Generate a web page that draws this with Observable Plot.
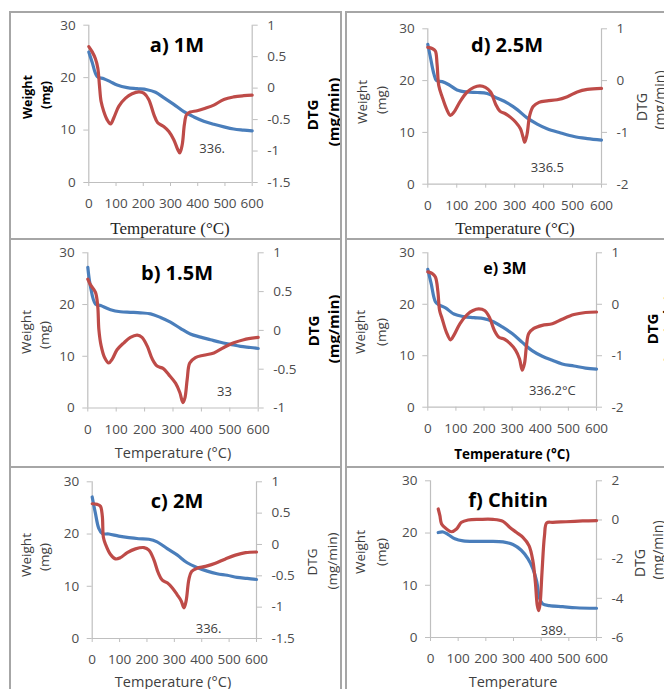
<!DOCTYPE html>
<html><head><meta charset="utf-8">
<script src="https://cdn.jsdelivr.net/npm/d3@7"></script>
<script src="https://cdn.jsdelivr.net/npm/@observablehq/plot@0.6"></script>
<style>
body{margin:0;background:#fff;}
#root{position:relative;width:664px;height:689px;overflow:hidden;background:#fff;font-family:"Open Sans",sans-serif;}
.cell{position:absolute;overflow:hidden;}
.lbl{position:absolute;white-space:nowrap;transform:translate(-50%,-50%);line-height:1;color:#333;}
.rot{transform:translate(-50%,-50%) rotate(-90deg);}
.bline{position:absolute;background:#a6a6a6;}
</style></head><body><div id="root"></div><script>
// ---------- data ----------
const xTicks = [0,100,200,300,400,500,600];
const weightTicks = [0,10,20,30];

// a) 1M
const aWeightT = [0,12,31,55,80,104,141,177,214,245,275,312,349,386,422,459,496,532,569,600];
const aWeight  = [24.9,23.0,20.2,19.8,19.2,18.6,18.1,17.9,17.7,17.2,16.2,14.9,13.5,12.5,11.7,11.1,10.6,10.2,10.0,9.85];
const aDtgT = [0,12,24,33,39,45,55,67,80,92,110,135,159,184,202,220,239,253,275,294,312,327,334,343,351,359,373,398,428,459,496,532,569,600];
const aDtg  = [0.66,0.58,0.47,0.32,0.05,-0.21,-0.37,-0.50,-0.57,-0.47,-0.29,-0.16,-0.09,-0.06,-0.08,-0.18,-0.42,-0.55,-0.61,-0.69,-0.82,-0.98,-1.03,-0.90,-0.58,-0.42,-0.38,-0.36,-0.32,-0.27,-0.18,-0.14,-0.12,-0.11];
const aDtgTicks = [-1.5,-1,-0.5,0,0.5,1];

// b) 1.5M
const bWeightT = [0,9,27,45,80,115,150,185,221,256,291,326,361,397,432,467,502,538,573,600];
const bWeight  = [27.2,23.6,20.1,19.8,19.0,18.6,18.5,18.4,18.2,17.5,16.6,15.4,14.3,13.7,13.2,12.7,12.3,11.9,11.7,11.5];
const bDtgT = [0,9,27,35,39,47,59,74,86,103,127,150,174,191,209,227,244,265,285,309,324,335,342,350,359,379,408,444,479,514,549,600];
const bDtg  = [0.66,0.59,0.49,0.31,0.01,-0.20,-0.35,-0.42,-0.37,-0.25,-0.16,-0.09,-0.06,-0.09,-0.20,-0.37,-0.46,-0.49,-0.57,-0.68,-0.80,-0.93,-0.87,-0.63,-0.42,-0.35,-0.32,-0.29,-0.22,-0.16,-0.12,-0.09];
const bDtgTicks = [-1,-0.5,0,0.5,1];

// c) 2M
const cWeightT = [0,12,24,37,61,97,134,170,207,237,274,310,347,383,420,456,493,529,566,600];
const cWeight  = [27.1,23.9,21.1,20.1,20.0,19.6,19.3,19.1,19.0,18.5,17.2,16.0,14.5,13.6,12.9,12.4,12.1,11.7,11.5,11.3];
const cDtgT = [0,18,30,37,41,49,67,85,103,128,158,189,207,225,241,256,274,292,310,325,335,343,353,363,383,414,450,487,523,560,600];
const cDtg  = [0.65,0.64,0.61,0.45,0.11,0.0,-0.16,-0.23,-0.21,-0.13,-0.07,-0.05,-0.09,-0.24,-0.45,-0.57,-0.61,-0.69,-0.80,-0.90,-1.01,-0.90,-0.56,-0.43,-0.38,-0.35,-0.30,-0.23,-0.17,-0.13,-0.12];
const cDtgTicks = [-1.5,-1,-0.5,0,0.5,1];

// d) 2.5M
const dWeightT = [0,9,21,30,50,73,101,136,171,205,240,274,309,343,378,412,459,505,551,600];
const dWeight  = [27.0,24.5,21.3,20.0,19.8,19.2,18.2,17.8,17.7,17.5,16.6,15.7,14.4,12.8,11.6,10.7,9.9,9.2,8.8,8.5];
const dDtgT = [0,15,26,32,38,50,65,78,90,113,136,159,180,199,217,234,249,268,286,303,320,329,335,343,352,364,384,412,447,482,516,551,600];
const dDtg  = [0.64,0.62,0.57,0.32,-0.10,-0.32,-0.55,-0.67,-0.61,-0.39,-0.22,-0.13,-0.10,-0.13,-0.22,-0.45,-0.59,-0.64,-0.71,-0.80,-0.93,-1.09,-1.19,-1.03,-0.67,-0.50,-0.42,-0.39,-0.37,-0.31,-0.22,-0.17,-0.15];
const dDtgTicks = [-2,-1,0,1];

// e) 3M
const eWeightT = [0,12,27,39,63,93,128,164,199,229,265,300,336,371,407,443,478,520,561,600];
const eWeight  = [26.8,24.0,20.5,19.9,19.3,18.1,17.6,17.4,17.2,16.7,15.6,14.3,12.6,11.0,9.9,9.1,8.4,8.0,7.6,7.4];
const eDtgT = [0,15,27,36,42,51,66,81,93,114,140,161,181,202,219,237,253,273,292,312,326,336,344,351,359,377,407,443,478,520,561,600];
const eDtg  = [0.63,0.60,0.53,0.24,-0.12,-0.28,-0.54,-0.69,-0.60,-0.38,-0.20,-0.12,-0.09,-0.12,-0.25,-0.51,-0.64,-0.68,-0.76,-0.89,-1.06,-1.28,-1.15,-0.80,-0.57,-0.47,-0.41,-0.38,-0.29,-0.20,-0.16,-0.15];
const eDtgTicks = [-2,-1,0,1];

// f) Chitin
const fWeightT = [28,46,64,88,118,166,214,262,298,328,352,370,384,394,406,430,478,526,600];
const fWeight  = [20.1,20.2,19.7,18.9,18.5,18.4,18.4,18.3,17.8,16.7,15.1,13.2,10.7,7.5,6.4,6.1,5.9,5.7,5.6];
const fDtgT = [28,34,40,58,76,94,112,136,178,226,262,286,310,334,356,370,379,386,391,396,403,412,420,442,490,550,600];
const fDtg  = [0.56,0.22,-0.20,-0.46,-0.60,-0.46,-0.12,0.0,0.03,0.03,-0.07,-0.37,-0.63,-0.89,-1.31,-2.08,-3.18,-4.37,-4.63,-4.29,-2.67,-0.80,-0.15,-0.12,-0.09,-0.05,-0.03];
const fDtgTicks = [-6,-4,-2,0,2];

// peak annotations (text, temperature, weight-axis height)
const annText = ["336.", "33", "336.", "336.5", "336.2°C", "389."];
const annT = [453, 481, 425, 413, 443, 445];
const annY = [6.5, 3.05, 1.9, 3.2, 3.2, 1.3];

const titles = ["a) 1M", "b) 1.5M", "c) 2M", "d) 2.5M", "e) 3M", "f) Chitin"];

// ---------- layout (pixels) ----------
const BLUE = "#4a7ebb", RED = "#be4b48", AXIS = "#bfbfbf", TICKTXT = "#4d4d4d";
const TICKFONT = 13.5;
const panels = [
  {cell:[10,12,331,227], plot:[88.3,24.7,251.7,182], dom:[-1.5,1], ticks:aDtgTicks, wT:aWeightT, w:aWeight, dT:aDtgT, d:aDtg, k:0,
   labels:[
    {t:titles[0], x:177, y:45, s:20, b:1, c:"#000"},
    {t:"Weight", x:28, y:97, s:12.5, b:1, r:1, c:"#000"},
    {t:"(mg)", x:46, y:95, s:12.5, b:1, r:1, c:"#000"},
    {t:"DTG", x:312, y:115, s:15, b:1, r:1, c:"#000"},
    {t:"(mg/min)", x:333, y:112, s:15, b:1, r:1, c:"#000"},
    {t:"Temperature (°C)", x:170, y:228, s:17, serif:1, c:"#262626"}]},
  {cell:[10,239,331,228], plot:[87.3,252.3,257.7,407.5], dom:[-1,1], ticks:bDtgTicks, wT:bWeightT, w:bWeight, dT:bDtgT, d:bDtg, k:1,
   labels:[
    {t:titles[1], x:177, y:273, s:20, b:1, c:"#000"},
    {t:"Weight", x:27, y:332, s:13.5, r:1, c:"#404040"},
    {t:"(mg)", x:45, y:335, s:13.5, r:1, c:"#404040"},
    {t:"DTG", x:313, y:331, s:15, b:1, r:1, c:"#000"},
    {t:"(mg/min)", x:333, y:329, s:15, b:1, r:1, c:"#000"},
    {t:"Temperature (°C)", x:173, y:453, s:14.5, c:"#404040"}]},
  {cell:[10,467,331,222], plot:[91.7,481.3,256,638], dom:[-1.5,1], ticks:cDtgTicks, wT:cWeightT, w:cWeight, dT:cDtgT, d:cDtg, k:2,
   labels:[
    {t:titles[2], x:177, y:501, s:20, b:1, c:"#000"},
    {t:"Weight", x:27, y:555, s:13.5, r:1, c:"#404040"},
    {t:"(mg)", x:45, y:557, s:13.5, r:1, c:"#404040"},
    {t:"DTG", x:313, y:562, s:13.5, r:1, c:"#404040"},
    {t:"(mg/min)", x:333, y:561, s:13.5, r:1, c:"#404040"},
    {t:"Temperature (°C)", x:173, y:682, s:14.5, c:"#404040"}]},
  {cell:[346,12,318,227], plot:[427.3,28.3,601,183.7], dom:[-2,1], ticks:dDtgTicks, wT:dWeightT, w:dWeight, dT:dDtgT, d:dDtg, k:3,
   labels:[
    {t:titles[3], x:507, y:45, s:20, b:1, c:"#000"},
    {t:"Weight", x:363, y:102, s:13.5, r:1, c:"#404040"},
    {t:"(mg)", x:382, y:100, s:13.5, r:1, c:"#404040"},
    {t:"DTG", x:642, y:107, s:14, r:1, c:"#404040"},
    {t:"(mg/min)", x:660, y:100, s:14, r:1, c:"#404040"},
    {t:"Temperature (°C)", x:515, y:228, s:17, serif:1, c:"#262626"}]},
  {cell:[346,239,318,228], plot:[427.3,252.3,596,406.7], dom:[-2,1], ticks:eDtgTicks, wT:eWeightT, w:eWeight, dT:eDtgT, d:eDtg, k:4,
   labels:[
    {t:titles[4], x:505, y:268, s:16, b:1, c:"#000"},
    {t:"Weight", x:361, y:332, s:13.5, r:1, c:"#404040"},
    {t:"(mg)", x:382, y:332, s:13.5, r:1, c:"#404040"},
    {t:"DTG", x:652, y:329, s:15, b:1, r:1, c:"#000"},
    {t:"(mg/min)", x:668, y:329, s:15, b:1, r:1, c:"#000"},
    {t:"Temperature (°C)", x:512, y:455, s:13.5, b:1, c:"#000"}]},
  {cell:[346,467,318,222], plot:[430,480.3,596,637], dom:[-6,2], ticks:fDtgTicks, wT:fWeightT, w:fWeight, dT:fDtgT, d:fDtg, k:5,
   labels:[
    {t:titles[5], x:508, y:500, s:20, b:1, c:"#000"},
    {t:"Weight", x:361, y:552, s:13.5, r:1, c:"#404040"},
    {t:"(mg)", x:382, y:552, s:13.5, r:1, c:"#404040"},
    {t:"DTG", x:640, y:563, s:14, r:1, c:"#404040"},
    {t:"(mg/min)", x:658, y:550, s:14, r:1, c:"#404040"},
    {t:"Temperature", x:513, y:682, s:14.5, c:"#404040"}]}
];

const fmt = v => String(Math.round(v * 100) / 100);
const root = document.getElementById("root");

for (const p of panels) {
  const [cx, cy, cw, ch] = p.cell;
  const [px0, py0, px1, py1] = p.plot;
  const toW = d3.scaleLinear().domain(p.dom).range([0, 30]);
  const blue = p.wT.map((t, i) => ({t, v: p.w[i]}));
  const red = p.dT.map((t, i) => ({t, v: toW(p.d[i])}));
  const ann = [{t: annT[p.k], v: annY[p.k], s: annText[p.k]}];
  const chart = Plot.plot({
    width: cw, height: ch,
    marginLeft: px0 - cx, marginRight: cx + cw - px1,
    marginTop: py0 - cy, marginBottom: cy + ch - py1,
    x: {domain: [0, 600]},
    y: {domain: [0, 30]},
    style: {fontFamily: "'Open Sans', sans-serif", fontSize: TICKFONT + "px", background: "transparent", color: TICKTXT},
    marks: [
      Plot.ruleX([0, 600], {stroke: AXIS, strokeWidth: 1.2}),
      Plot.ruleY([0], {stroke: AXIS, strokeWidth: 1.2}),
      Plot.axisX({ticks: xTicks, tickSize: 4, tickPadding: 12, stroke: AXIS, fill: TICKTXT, fontSize: TICKFONT, label: null, tickFormat: d => String(d)}),
      Plot.axisY({ticks: weightTicks, anchor: "left", tickSize: 5, tickPadding: 8, stroke: AXIS, fill: TICKTXT, fontSize: TICKFONT, label: null, tickFormat: d => String(d)}),
      Plot.axisY(p.ticks.map(toW), {anchor: "right", tickSize: 5, tickPadding: 10, stroke: AXIS, fill: TICKTXT, fontSize: TICKFONT, label: null, tickFormat: w => fmt(toW.invert(w))}),
      Plot.line(blue, {x: "t", y: "v", stroke: BLUE, strokeWidth: 3.2, curve: "catmull-rom"}),
      Plot.line(red, {x: "t", y: "v", stroke: RED, strokeWidth: 3.2, curve: "catmull-rom"}),
      Plot.text(ann, {x: "t", y: "v", text: "s", fill: "#404040", fontSize: 13})
    ]
  });
  const cell = document.createElement("div");
  cell.className = "cell";
  Object.assign(cell.style, {left: cx + "px", top: cy + "px", width: cw + "px", height: ch + "px"});
  chart.style.position = "absolute";
  chart.style.left = "0px";
  chart.style.top = "0px";
  cell.appendChild(chart);
  for (const L of p.labels) {
    const el = document.createElement("div");
    el.className = "lbl" + (L.r ? " rot" : "");
    el.textContent = L.t;
    Object.assign(el.style, {
      left: (L.x - cx) + "px", top: (L.y - cy) + "px",
      fontSize: L.s + "px", fontWeight: L.b ? "700" : "400", color: L.c,
      fontFamily: L.serif ? "'Liberation Serif', serif" : "'Open Sans', sans-serif"
    });
    cell.appendChild(el);
  }
  root.appendChild(cell);
}

// panel frame lines
const vLines = [10, 341, 346];
const hLines = [12, 239, 467];
for (const x of vLines) {
  const el = document.createElement("div");
  el.className = "bline";
  Object.assign(el.style, {left: (x - 1) + "px", top: "11px", width: "2px", height: "678px"});
  root.appendChild(el);
}
for (const y of hLines) {
  for (const [x0, x1] of [[9, 342], [345, 664]]) {
    const el = document.createElement("div");
    el.className = "bline";
    Object.assign(el.style, {left: x0 + "px", top: (y - 1) + "px", width: (x1 - x0) + "px", height: "2px"});
    root.appendChild(el);
  }
}
</script></body></html>
